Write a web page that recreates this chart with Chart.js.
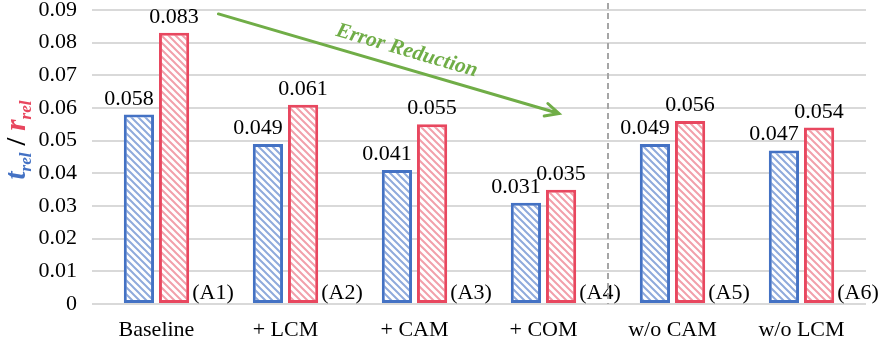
<!DOCTYPE html>
<html lang="en">
<head>
  <meta charset="UTF-8" />
  <title>Error Reduction Ablation</title>
  <script src="https://cdn.jsdelivr.net/npm/chart.js"></script>
  <style>
    html, body { margin: 0; padding: 0; background: #fff; }
    #wrap { width: 880px; height: 342px; }
  </style>
</head>
<body>
  <div id="wrap"><canvas id="ablationChart" width="880" height="342"></canvas></div>

  <script>
    const categories = ["Baseline", "+ LCM", "+ CAM", "+ COM", "w/o CAM", "w/o LCM"];
    const tagLabels = ["(A1)", "(A2)", "(A3)", "(A4)", "(A5)", "(A6)"];
    const tRel = [0.058, 0.049, 0.041, 0.031, 0.049, 0.047];
    const rRel = [0.083, 0.061, 0.055, 0.035, 0.056, 0.054];
    const yTicks = [0, 0.01, 0.02, 0.03, 0.04, 0.05, 0.06, 0.07, 0.08, 0.09];

    const SERIF = "'Liberation Serif', 'Times New Roman', serif";
    const blue = "#4472C4";
    const red = "#E8475F";
    const green = "#70AD47";

    function hatch(lineColor) {
      const s = 7;
      const c = document.createElement("canvas");
      c.width = s; c.height = s;
      const g = c.getContext("2d");
      g.fillStyle = "#fff";
      g.fillRect(0, 0, s, s);
      g.strokeStyle = lineColor;
      g.lineWidth = 2;
      g.beginPath();
      g.moveTo(-1, -1); g.lineTo(s + 1, s + 1);
      g.moveTo(-1, s - 1); g.lineTo(1, s + 1);
      g.moveTo(s - 1, -1); g.lineTo(s + 1, 1);
      g.stroke();
      return g.createPattern(c, "repeat");
    }

    // value labels, (A#) tags, separator, arrow, axis title
    const overlay = {
      id: "overlay",
      afterDatasetsDraw(chart) {
        const ctx = chart.ctx;
        const xs = chart.scales.x, ys = chart.scales.y;
        ctx.save();
        ctx.font = "22px " + SERIF;
        ctx.fillStyle = "#000";
        ctx.textBaseline = "alphabetic";
        ctx.textAlign = "center";
        chart.data.datasets.forEach((ds, di) => {
          const meta = chart.getDatasetMeta(di);
          meta.data.forEach((bar, i) => {
            const dx = di === 0 ? -10 : 0;
            ctx.fillText(ds.data[i].toFixed(3), bar.x + dx, bar.y - 10);
          });
        });
        const redMeta = chart.getDatasetMeta(1);
        ctx.textAlign = "left";
        redMeta.data.forEach((bar, i) => {
          ctx.fillText(tagLabels[i], bar.x + bar.width / 2 + 3, ys.getPixelForValue(0) - 5);
        });

        // dashed separator between + COM and w/o CAM
        const sepX = (xs.getPixelForValue(3) + xs.getPixelForValue(4)) / 2;
        ctx.strokeStyle = "#a6a6a6";
        ctx.lineWidth = 2;
        ctx.setLineDash([6, 4]);
        ctx.beginPath();
        ctx.moveTo(sepX, 3);
        ctx.lineTo(sepX, ys.getPixelForValue(0));
        ctx.stroke();
        ctx.setLineDash([]);

        // arrow
        const x1 = xs.getPixelForValue(0.48), y1 = ys.getPixelForValue(0.0888);
        const x2 = xs.getPixelForValue(3.12), y2 = ys.getPixelForValue(0.0583);
        const ang = Math.atan2(y2 - y1, x2 - x1);
        ctx.strokeStyle = green;
        ctx.lineWidth = 3;
        ctx.lineCap = "round";
        ctx.beginPath();
        ctx.moveTo(x1, y1);
        ctx.lineTo(x2, y2);
        const h = 15;
        ctx.moveTo(x2 - h * Math.cos(ang - 0.45), y2 - h * Math.sin(ang - 0.45));
        ctx.lineTo(x2, y2);
        ctx.lineTo(x2 - h * Math.cos(ang + 0.45), y2 - h * Math.sin(ang + 0.45));
        ctx.stroke();

        ctx.save();
        ctx.translate(xs.getPixelForValue(1.94), ys.getPixelForValue(0.0775));
        ctx.rotate(ang);
        ctx.fillStyle = green;
        ctx.font = "italic bold 21.5px " + SERIF;
        ctx.textAlign = "center";
        ctx.textBaseline = "middle";
        ctx.fillText("Error Reduction", 0, 0);
        ctx.restore();

        // y axis title: t_rel / r_rel
        ctx.save();
        ctx.translate(25, 140);
        ctx.rotate(-Math.PI / 2);
        const big = "italic bold 29px " + SERIF;
        const sub = "italic bold 17px " + SERIF;
        const parts = [
          { t: "t", f: big, c: blue, dy: 0 },
          { t: "rel", f: sub, c: blue, dy: 6 },
          { t: " / ", f: "bold 28px " + SERIF, c: "#000", dy: 0 },
          { t: "r", f: big, c: red, dy: 0 },
          { t: "rel", f: sub, c: red, dy: 6 }
        ];
        let total = 0;
        parts.forEach(p => { ctx.font = p.f; p.w = ctx.measureText(p.t).width; total += p.w; });
        let px = -total / 2;
        ctx.textAlign = "left";
        ctx.textBaseline = "alphabetic";
        parts.forEach(p => {
          ctx.font = p.f;
          ctx.fillStyle = p.c;
          ctx.fillText(p.t, px, p.dy);
          px += p.w;
        });
        ctx.restore();

        ctx.restore();
      }
    };

    const ctx = document.getElementById("ablationChart").getContext("2d");
    new Chart(ctx, {
      type: "bar",
      data: {
        labels: categories,
        datasets: [
          {
            label: "t_rel",
            data: tRel,
            backgroundColor: hatch("#8FAADC"),
            borderColor: blue,
            borderWidth: 3,
            borderSkipped: false,
            categoryPercentage: 0.545,
            barPercentage: 0.86
          },
          {
            label: "r_rel",
            data: rRel,
            backgroundColor: hatch("#F2A0AB"),
            borderColor: red,
            borderWidth: 3,
            borderSkipped: false,
            categoryPercentage: 0.545,
            barPercentage: 0.86
          }
        ]
      },
      options: {
        responsive: false,
        animation: false,
        events: [],
        layout: { padding: { top: 10, right: 14, left: 0, bottom: 0 } },
        plugins: { legend: { display: false }, tooltip: { enabled: false } },
        scales: {
          x: {
            grid: { display: false, drawTicks: false },
            border: { display: false },
            ticks: { color: "#000", font: { family: SERIF, size: 22 }, padding: 13 },
            afterFit(s) { s.height = 38; s.paddingLeft = 0; s.paddingRight = 0; }
          },
          y: {
            min: 0,
            max: 0.09,
            afterBuildTicks(s) { s.ticks = yTicks.map(v => ({ value: v })); },
            grid: { color: "#d9d9d9", lineWidth: 2, drawTicks: false },
            border: { display: false },
            ticks: {
              color: "#000",
              font: { family: SERIF, size: 22 },
              padding: 15,
              callback: v => (v === 0 ? "0" : v.toFixed(2))
            },
            afterFit(s) { s.width = 92; s.paddingTop = 0; s.paddingBottom = 0; }
          }
        }
      },
      plugins: [overlay]
    });
  </script>
</body>
</html>
